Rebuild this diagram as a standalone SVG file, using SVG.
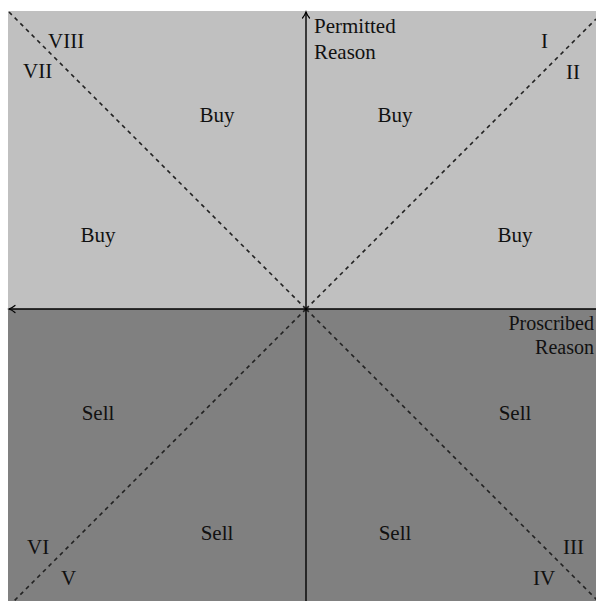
<svg xmlns="http://www.w3.org/2000/svg" width="596" height="601" viewBox="0 0 596 601">
  <style>
    text { font-family: "Liberation Serif", "DejaVu Serif", serif; font-size: 21px; fill: #111; }
    .mid { text-anchor: middle; }
    .end { text-anchor: end; font-size: 20px; }
    .diag { stroke: #222; stroke-width: 1.6; stroke-dasharray: 4 4; fill: none; }
    .axis { stroke: #000; stroke-width: 1.4; fill: none; }
    .head { stroke: #000; stroke-width: 1.2; fill: none; stroke-linecap: round; }
  </style>
  <rect x="0" y="0" width="596" height="601" fill="#ffffff"/>
  <rect id="upper" x="8" y="11" width="588" height="298" fill="#c0c0c0"/>
  <rect id="lower" x="8" y="309" width="588" height="292" fill="#808080"/>

  <g id="connectors">
    <line class="diag" x1="306" y1="309" x2="9" y2="12"/>
    <line class="diag" x1="306" y1="309" x2="596" y2="19"/>
    <line class="diag" x1="306" y1="309" x2="14" y2="601"/>
    <line class="diag" x1="306" y1="309" x2="598" y2="601"/>
    <line class="axis" x1="306" y1="601" x2="306" y2="12"/>
    <path class="head" d="M302.5,18 Q305,15 306,12 Q307,15 309.5,18"/>
    <line class="axis" x1="596" y1="309" x2="9" y2="309"/>
    <path class="head" d="M15,305.5 Q12,308 9,309 Q12,310 15,312.5"/>
  </g>

  <g id="axis-labels">
    <text x="314" y="33">Permitted</text>
    <text x="314" y="59">Reason</text>
    <text class="end" x="594" y="330">Proscribed</text>
    <text class="end" x="594" y="354">Reason</text>
  </g>

  <g id="octants">
    <text x="541" y="48">I</text>
    <text x="566" y="79">II</text>
    <text x="563" y="554">III</text>
    <text x="533" y="585">IV</text>
    <text x="61" y="585">V</text>
    <text x="27" y="554">VI</text>
    <text x="23" y="78">VII</text>
    <text x="48" y="48">VIII</text>
  </g>

  <g id="regions">
    <text class="mid" x="217" y="122">Buy</text>
    <text class="mid" x="395" y="122">Buy</text>
    <text class="mid" x="98" y="242">Buy</text>
    <text class="mid" x="515" y="242">Buy</text>
    <text class="mid" x="98" y="420">Sell</text>
    <text class="mid" x="515" y="420">Sell</text>
    <text class="mid" x="217" y="540">Sell</text>
    <text class="mid" x="395" y="540">Sell</text>
  </g>
</svg>
